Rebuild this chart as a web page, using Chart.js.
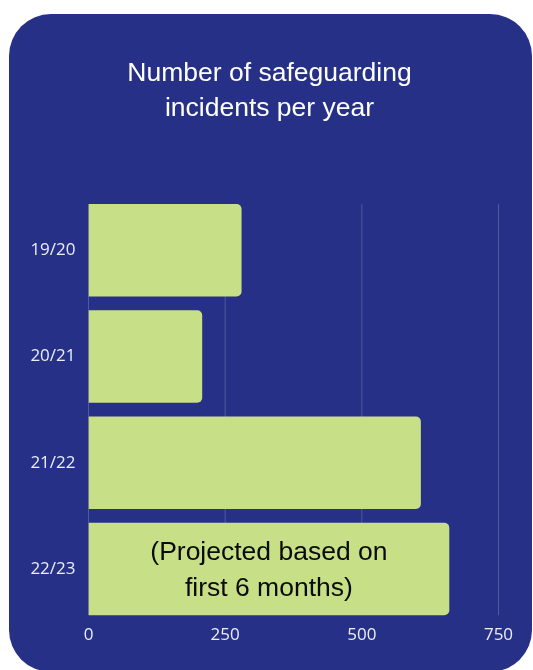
<!DOCTYPE html>
<html><head><meta charset="utf-8">
<script src="https://cdn.jsdelivr.net/npm/chart.js@4"></script>
<style>
html,body{margin:0;padding:0;background:#fff;width:533px;height:670px;overflow:hidden;}
#card{position:absolute;left:9px;top:14px;width:523px;height:658px;border-radius:42px;background:#263087;overflow:hidden;}
canvas{display:block;}
</style></head><body>
<div id="card"><canvas id="c" width="523" height="658"></canvas></div>
<script>
const categories = ['19/20', '20/21', '21/22', '22/23'];
const incidents = [280, 208, 608, 660];
const xTicks = [0, 250, 500, 750];
const titleLines = ['Number of safeguarding', 'incidents per year'];
const barNotes = [[], [], [], ['(Projected based on', 'first 6 months)']];

const GREEN = '#c7e087';
const GRID = 'rgba(255,255,255,0.2)';

const titlePlugin = {
  id: 'cardTitle',
  afterDraw(chart) {
    const ctx = chart.ctx;
    ctx.save();
    ctx.fillStyle = '#ffffff';
    ctx.font = '26.5px "Liberation Sans", Arial, sans-serif';
    ctx.textAlign = 'center';
    ctx.textBaseline = 'middle';
    const cx = (chart.width - 2) / 2;
    titleLines.forEach((t, k) => ctx.fillText(t, cx, 59.5 + k * 35));
    ctx.restore();
  }
};

const gridPlugin = {
  id: 'gridBetweenBars',
  beforeDatasetsDraw(chart) {
    const meta = chart.getDatasetMeta(0);
    const first = meta.data[0], last = meta.data[meta.data.length - 1];
    const top = first.y - first.height / 2;
    const bottom = last.y + last.height / 2;
    const ctx = chart.ctx, xs = chart.scales.x;
    ctx.save();
    ctx.strokeStyle = GRID;
    ctx.lineWidth = 1;
    xTicks.forEach(v => {
      const px = xs.getPixelForValue(v);
      ctx.beginPath();
      ctx.moveTo(px, top);
      ctx.lineTo(px, bottom);
      ctx.stroke();
    });
    ctx.restore();
  }
};

const notePlugin = {
  id: 'barNotes',
  afterDatasetsDraw(chart) {
    const meta = chart.getDatasetMeta(0);
    const ctx = chart.ctx;
    ctx.save();
    ctx.fillStyle = '#0a0a0a';
    ctx.font = '26.5px "Liberation Sans", Arial, sans-serif';
    ctx.textAlign = 'center';
    ctx.textBaseline = 'middle';
    const lh = 36;
    meta.data.forEach((bar, i) => {
      const lines = barNotes[i];
      if (!lines.length) return;
      const cx = (bar.x + bar.base) / 2;
      const y0 = bar.y + 1.5 - (lines.length - 1) * lh / 2;
      lines.forEach((t, k) => ctx.fillText(t, cx, y0 + k * lh));
    });
    ctx.restore();
  }
};

new Chart(document.getElementById('c'), {
  type: 'bar',
  data: {
    labels: categories,
    datasets: [{
      data: incidents,
      backgroundColor: GREEN,
      borderWidth: 0,
      borderRadius: 5,
      borderSkipped: 'start',
      categoryPercentage: 1,
      barPercentage: 0.87
    }]
  },
  options: {
    indexAxis: 'y',
    responsive: false,
    animation: false,
    layout: { padding: { left: 0, right: 33.5, top: 183.2, bottom: 23.5 } },
    plugins: {
      legend: { display: false },
      tooltip: { enabled: false },
      title: { display: false }
    },
    scales: {
      x: {
        min: 0, max: 750,
        afterBuildTicks(s) { s.ticks = xTicks.map(v => ({ value: v })); },
        grid: { display: false, drawTicks: false },
        border: { display: false },
        ticks: { color: '#eceef6', padding: 3, font: { family: '"Open Sans", sans-serif', size: 17 } }
      },
      y: {
        grid: { display: false, drawTicks: false },
        border: { display: false },
        afterFit(s) { s.width = 79.5; },
        ticks: { color: '#eceef6', padding: 13, font: { family: '"Open Sans", sans-serif', size: 17 } }
      }
    }
  },
  plugins: [gridPlugin, notePlugin, titlePlugin]
});
</script>
</body></html>
